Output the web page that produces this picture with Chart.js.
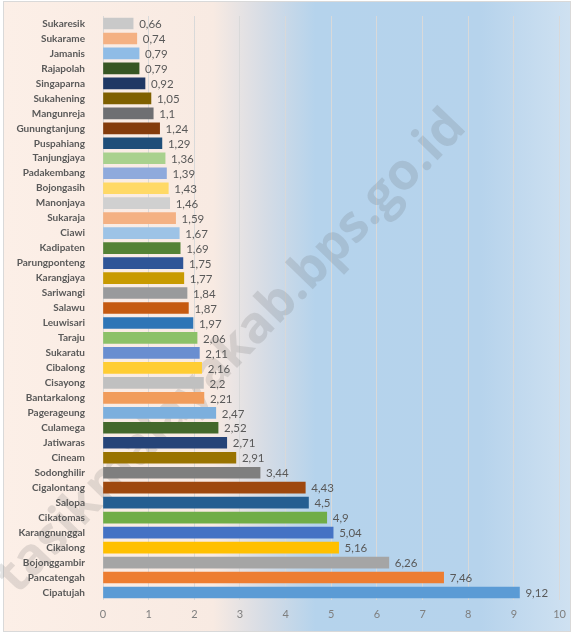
<!DOCTYPE html>
<html>
<head>
<meta charset="utf-8">
<script src="https://cdn.jsdelivr.net/npm/chart.js@4/dist/chart.umd.min.js"></script>
<style>
  body { margin: 0; background: #ffffff; }
  canvas { display: block; }
</style>
</head>
<body>
<canvas id="chart" width="574" height="635"></canvas>
<script>
// Categories (kecamatan), top to bottom
var categories = [
    'Sukaresik', 'Sukarame', 'Jamanis', 'Rajapolah', 'Singaparna', 'Sukahening',
    'Mangunreja', 'Gunungtanjung', 'Puspahiang', 'Tanjungjaya', 'Padakembang',
    'Bojongasih', 'Manonjaya', 'Sukaraja', 'Ciawi', 'Kadipaten', 'Parungponteng',
    'Karangjaya', 'Sariwangi', 'Salawu', 'Leuwisari', 'Taraju', 'Sukaratu',
    'Cibalong', 'Cisayong', 'Bantarkalong', 'Pagerageung', 'Culamega', 'Jatiwaras',
    'Cineam', 'Sodonghilir', 'Cigalontang', 'Salopa', 'Cikatomas', 'Karangnunggal',
    'Cikalong', 'Bojonggambir', 'Pancatengah', 'Cipatujah'
];

// Values
var values = [
    0.66, 0.74, 0.79, 0.79, 0.92, 1.05,
    1.1, 1.24, 1.29, 1.36, 1.39,
    1.43, 1.46, 1.59, 1.67, 1.69, 1.75,
    1.77, 1.84, 1.87, 1.97, 2.06, 2.11,
    2.16, 2.2, 2.21, 2.47, 2.52, 2.71,
    2.91, 3.44, 4.43, 4.5, 4.9, 5.04,
    5.16, 6.26, 7.46, 9.12
];

// Bar colours
var barColors = [
    '#c9c9c9', '#f4b183', '#8fbce6', '#375623', '#1f3864', '#7f6000',
    '#6e6f72', '#843c0c', '#1f4e79', '#a9d18e', '#8faadc',
    '#ffd966', '#d0d0d0', '#f4b183', '#9dc3e6', '#548235', '#2f5597',
    '#c89a00', '#999a9c', '#c55a11', '#2e75b6', '#8cc168', '#698ed0',
    '#ffcd33', '#c0c0c0', '#f19c5b', '#7cafdd', '#43682b', '#264478',
    '#997300', '#7f7f7f', '#9e480e', '#255e91', '#70ad47', '#4472c4',
    '#ffc000', '#a5a5a5', '#ed7d31', '#5b9bd5'
];

var xTicks = [0, 1, 2, 3, 4, 5, 6, 7, 8, 9, 10];

// Background gradient, border and watermark
var backgroundPlugin = {
    id: 'background',
    beforeDraw: function (chart) {
        var ctx = chart.ctx;
        ctx.save();
        var grad = ctx.createLinearGradient(3, 0, 571, 0);
        grad.addColorStop(0, '#fcefe7');
        grad.addColorStop(0.37, '#f8eae2');
        grad.addColorStop(0.46, '#d6dce5');
        grad.addColorStop(0.55, '#b5d3ec');
        grad.addColorStop(0.84, '#b6d3ec');
        grad.addColorStop(1, '#cfe1f1');
        ctx.fillStyle = grad;
        ctx.fillRect(3, 1, 568, 631);
        ctx.strokeStyle = '#d9d9d9';
        ctx.lineWidth = 1;
        ctx.strokeRect(3.5, 1.5, 567, 630);
        ctx.restore();
    },
    beforeDatasetsDraw: function (chart) {
        var ctx = chart.ctx;
        ctx.save();
        ctx.translate(232, 352);
        ctx.rotate(-46 * Math.PI / 180);
        ctx.font = 'bold 51px "Open Sans"';
        ctx.fillStyle = 'rgba(90, 90, 90, 0.16)';
        ctx.textAlign = 'center';
        ctx.textBaseline = 'middle';
        ctx.fillText('tasikmalayakab.bps.go.id', 0, 0);
        ctx.restore();
    }
};

// Value labels at the end of each bar
var valueLabelPlugin = {
    id: 'valueLabels',
    afterDatasetsDraw: function (chart) {
        var ctx = chart.ctx;
        var meta = chart.getDatasetMeta(0);
        ctx.save();
        ctx.font = '11.5px Lato';
        ctx.fillStyle = '#595959';
        ctx.textAlign = 'left';
        ctx.textBaseline = 'middle';
        meta.data.forEach(function (bar, i) {
            var text = String(values[i]).replace('.', ',');
            ctx.fillText(text, bar.x + 6, bar.y + 1);
        });
        ctx.restore();
    }
};

var ctx = document.getElementById('chart').getContext('2d');
window.myBar = new Chart(ctx, {
    type: 'bar',
    data: {
        labels: categories,
        datasets: [{
            data: values,
            backgroundColor: barColors,
            borderWidth: 0,
            barThickness: 11
        }]
    },
    options: {
        indexAxis: 'y',
        responsive: false,
        devicePixelRatio: 1,
        animation: false,
        layout: {
            padding: { top: 10, right: 11, bottom: 10, left: 0 }
        },
        plugins: {
            legend: { display: false },
            title: { display: false },
            tooltip: { enabled: false }
        },
        scales: {
            x: {
                min: 0,
                max: 10,
                afterBuildTicks: function (scale) {
                    scale.ticks = xTicks.map(function (v) { return { value: v }; });
                },
                afterFit: function (scale) {
                    scale.height = 25;
                },
                border: { display: false },
                grid: {
                    color: '#d9d9d9',
                    drawTicks: false
                },
                ticks: {
                    color: '#7f7f7f',
                    padding: 8,
                    font: { size: 11, family: 'Lato' }
                }
            },
            y: {
                afterFit: function (scale) {
                    scale.width = 103;
                },
                border: { display: false },
                grid: { display: false },
                ticks: {
                    color: '#595959',
                    padding: 10,
                    autoSkip: false,
                    font: { size: 10, weight: 'bold', family: 'Lato' }
                }
            }
        }
    },
    plugins: [backgroundPlugin, valueLabelPlugin]
});
</script>
</body>
</html>
